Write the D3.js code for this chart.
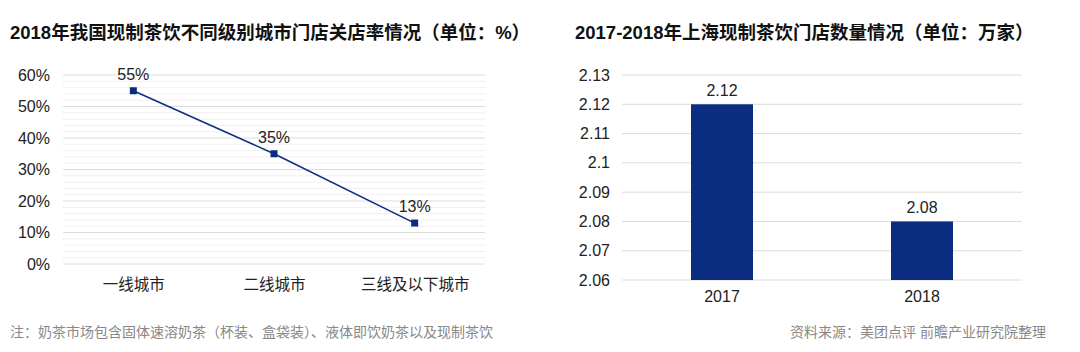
<!DOCTYPE html>
<html>
<head>
<meta charset="utf-8">
<script src="https://cdn.jsdelivr.net/npm/d3@7"></script>
<style>
  body { margin: 0; background: #fff; }
  text { font-family: "Liberation Sans", Arial, "Noto Sans CJK SC", sans-serif; }
</style>
</head>
<body>
<script>
// left chart data
var cityTiers = ["一线城市", "二线城市", "三线及以下城市"];
var closeRates = [55, 35, 13];
var rateTicks = [0, 10, 20, 30, 40, 50, 60];

// right chart data
var years = ["2017", "2018"];
var storeCounts = [2.12, 2.08];
var countTicks = [2.06, 2.07, 2.08, 2.09, 2.1, 2.11, 2.12, 2.13];

var width = 1080, height = 352;
var navy = "#0b2d80";

var svg = d3.select("body").append("svg")
    .attr("width", width)
    .attr("height", height);

// titles
svg.append("text")
    .attr("x", 10).attr("y", 39)
    .attr("font-size", 18.5).attr("font-weight", "bold").attr("fill", "#111")
    .text("2018年我国现制茶饮不同级别城市门店关店率情况（单位：%）");
svg.append("text")
    .attr("x", 575).attr("y", 39)
    .attr("font-size", 18.5).attr("font-weight", "bold").attr("fill", "#111")
    .text("2017-2018年上海现制茶饮门店数量情况（单位：万家）");

// ---------- left: line chart ----------
var x1 = d3.scalePoint().domain(cityTiers).range([63, 485]).padding(0.5);
var y1 = d3.scaleLinear().domain([0, 60]).range([264, 75]);

var g1 = svg.append("g");

// minor grid every 2%
g1.selectAll(".minor")
    .data(d3.range(0, 61, 2).filter(function(d){ return d % 10 != 0; }))
    .enter().append("line")
    .attr("x1", 63).attr("x2", 485)
    .attr("y1", function(d){ return y1(d); })
    .attr("y2", function(d){ return y1(d); })
    .attr("stroke", "#f0f0f0").attr("stroke-width", 1);

g1.selectAll(".major")
    .data(rateTicks)
    .enter().append("line")
    .attr("x1", 63).attr("x2", 485)
    .attr("y1", function(d){ return y1(d); })
    .attr("y2", function(d){ return y1(d); })
    .attr("stroke", "#dcdcdc").attr("stroke-width", 1);

var yAxis1 = d3.axisLeft(y1).tickValues(rateTicks).tickSize(0).tickPadding(0)
    .tickFormat(function(d){ return d + "%"; });
g1.append("g")
    .attr("transform", "translate(50,0)")
    .call(yAxis1)
    .call(function(g){ g.select(".domain").remove(); })
    .selectAll("text")
    .attr("font-size", 16).attr("fill", "#222");

var xAxis1 = d3.axisBottom(x1).tickSize(0).tickPadding(0);
g1.append("g")
    .attr("transform", "translate(0,279)")
    .call(xAxis1)
    .call(function(g){ g.select(".domain").remove(); })
    .selectAll("text")
    .attr("font-size", 15.5).attr("fill", "#222");

var pts = cityTiers.map(function(c, i){ return { c: c, v: closeRates[i] }; });

g1.append("path")
    .datum(pts)
    .attr("fill", "none")
    .attr("stroke", navy)
    .attr("stroke-width", 1.5)
    .attr("d", d3.line()
        .x(function(d){ return x1(d.c); })
        .y(function(d){ return y1(d.v); }));

g1.selectAll(".pt")
    .data(pts)
    .enter().append("rect")
    .attr("x", function(d){ return x1(d.c) - 3.5; })
    .attr("y", function(d){ return y1(d.v) - 3.5; })
    .attr("width", 7).attr("height", 7)
    .attr("fill", navy);

g1.selectAll(".lbl")
    .data(pts)
    .enter().append("text")
    .attr("x", function(d){ return x1(d.c); })
    .attr("y", function(d){ return y1(d.v) - 11; })
    .attr("text-anchor", "middle")
    .attr("font-size", 16).attr("fill", "#222")
    .text(function(d){ return d.v + "%"; });

// ---------- right: bar chart ----------
var x2 = d3.scaleBand().domain(years).range([622, 1022]).paddingInner(0.69).paddingOuter(0.345);
var y2 = d3.scaleLinear().domain([2.06, 2.13]).range([280, 75]);

var g2 = svg.append("g");

g2.selectAll(".grid")
    .data(countTicks)
    .enter().append("line")
    .attr("x1", 622).attr("x2", 1022)
    .attr("y1", function(d){ return y2(d); })
    .attr("y2", function(d){ return y2(d); })
    .attr("stroke", "#dcdcdc").attr("stroke-width", 1);

var yAxis2 = d3.axisLeft(y2).tickValues(countTicks).tickSize(0).tickPadding(0)
    .tickFormat(function(d){ return d3.format("")(+d.toFixed(2)); });
g2.append("g")
    .attr("transform", "translate(610,0)")
    .call(yAxis2)
    .call(function(g){ g.select(".domain").remove(); })
    .selectAll("text")
    .attr("font-size", 16).attr("fill", "#222");

var xAxis2 = d3.axisBottom(x2).tickSize(0).tickPadding(0);
g2.append("g")
    .attr("transform", "translate(0,291)")
    .call(xAxis2)
    .call(function(g){ g.select(".domain").remove(); })
    .selectAll("text")
    .attr("font-size", 16).attr("fill", "#222");

var bars = years.map(function(yr, i){ return { yr: yr, v: storeCounts[i] }; });

g2.selectAll(".bar")
    .data(bars)
    .enter().append("rect")
    .attr("x", function(d){ return x2(d.yr); })
    .attr("y", function(d){ return y2(d.v); })
    .attr("width", x2.bandwidth())
    .attr("height", function(d){ return y2(2.06) - y2(d.v); })
    .attr("fill", navy);

g2.selectAll(".blbl")
    .data(bars)
    .enter().append("text")
    .attr("x", function(d){ return x2(d.yr) + x2.bandwidth() / 2; })
    .attr("y", function(d){ return y2(d.v) - 8; })
    .attr("text-anchor", "middle")
    .attr("font-size", 16).attr("fill", "#222")
    .text(function(d){ return d.v.toFixed(2); });

// footer
svg.append("text")
    .attr("x", 10).attr("y", 337)
    .attr("font-size", 14).attr("fill", "#888")
    .text("注：奶茶市场包含固体速溶奶茶（杯装、盒袋装）、液体即饮奶茶以及现制茶饮");
svg.append("text")
    .attr("x", 1046).attr("y", 337)
    .attr("text-anchor", "end")
    .attr("font-size", 14).attr("fill", "#888")
    .text("资料来源：美团点评 前瞻产业研究院整理");
</script>
</body>
</html>
